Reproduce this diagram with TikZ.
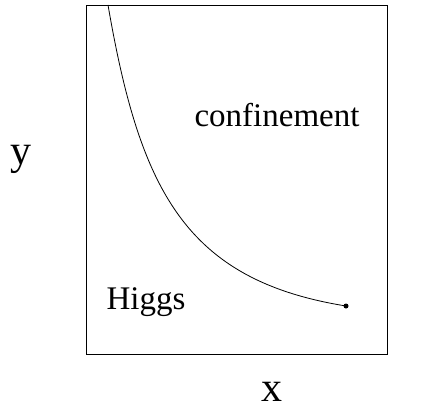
\documentclass[tikz,border=0pt]{standalone}
\usepackage{fontspec}
\setmainfont{Liberation Serif}
\tikzset{
  axislabel/.style={font=\fontsize{42}{48}\selectfont, anchor=base, inner sep=0pt},
  phaselabel/.style={font=\fontsize{33}{40}\selectfont, anchor=base},
  phaseline/.style={line width=0.8pt},
}
\begin{document}
\begin{tikzpicture}[x=1pt,y=-1pt]
  \useasboundingbox (0,0) rectangle (427,406);
  % frame
  \draw[phaseline] (86,5) rectangle (387,354);
  % axis labels
  \node[axislabel] (ylab) at (21,164) {y};
  \node[axislabel] (xlab) at (272,401) {x};
  % phases
  \node[phaselabel] (conf) at (277,127) {confinement};
  \node[phaselabel] (higgs) at (146,309) {Higgs};
  % transition line ending at a point
  \coordinate (top) at (108,5);
  \node[circle, fill, inner sep=0pt, minimum size=5pt] (endpt) at (346,306) {};
  \draw[phaseline] (top) .. controls (140,190) and (185,280) .. (endpt.center);
\end{tikzpicture}
\end{document}
